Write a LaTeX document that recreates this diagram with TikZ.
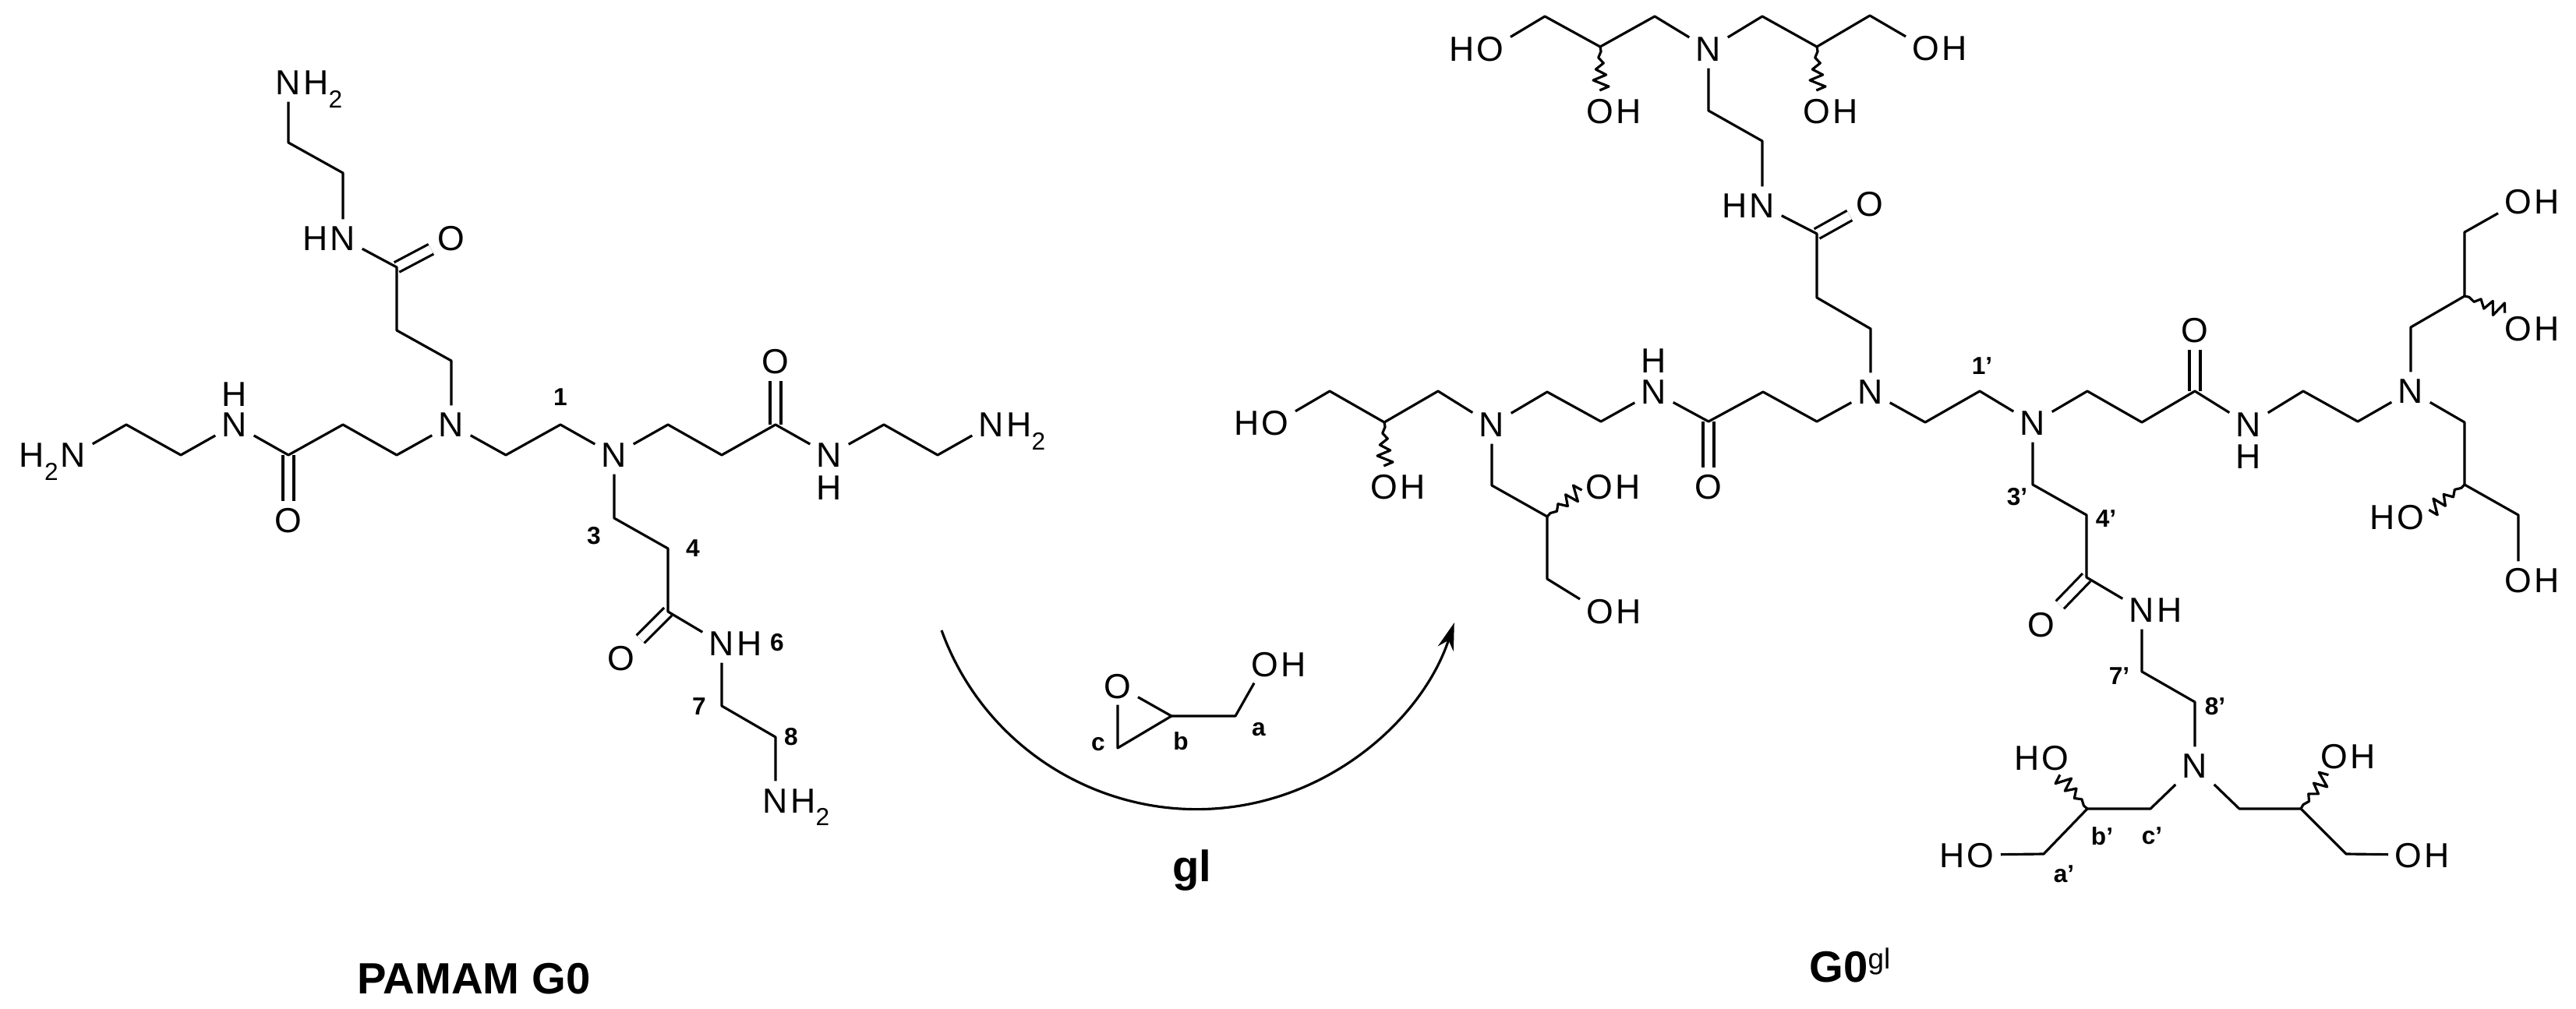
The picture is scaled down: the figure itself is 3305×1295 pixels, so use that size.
\documentclass[tikz,border=0pt]{standalone}
\usepackage{fontspec}
\setmainfont{Liberation Sans}
\usetikzlibrary{arrows.meta}
\newcommand{\subtwo}{\raisebox{-4.6pt}{\fontsize{9}{9}\selectfont 2}}
\tikzset{
	atom/.style={font=\fontsize{12.7}{14}\selectfont, inner sep=2pt, text height=9.1pt, text depth=0pt},
	hright/.style={atom, anchor=base west, xshift=-4pt},
	hleft/.style={atom, anchor=base east, xshift=4pt},
	numlabel/.style={font=\bfseries\fontsize{9}{10}\selectfont, inner sep=0pt},
	title/.style={font=\bfseries\fontsize{16}{18}\selectfont, inner sep=0pt},
	dbl/.style={double, double distance=3.1pt},
	wavy/.pic={\draw (0,0)--(1,6)--(-2.3,14)--(4.3,21)--(-5.7,29)--(7.7,36)--(-9,43)--(11,51)--(-0.7,56);}
}
\begin{document}
\begin{tikzpicture}[x=0.1mm,y=-0.1mm,>={Stealth[length=10pt,width=6pt]}, line width=0.9pt, line join=round]
	\useasboundingbox (0,0) rectangle (3305,1295);
	% nitrogen and oxygen atoms
	\foreach \nm/\x/\y in {nA/370/106,nB/440/306,nC/579/545,nD/788/584,nE/301/545,nF/94/584,nG/1064/584,nH/1272/545,nI/926/826,nJ/995/1027,
		nT/2192/63,nU/2261/264,nV/2400/503,nW/2122/503,nX/1914/545,nY/2608/543,nZ/2885/545,nQ/3093/502,nS/2748/783,nR/2816/983}
		\node[atom] (\nm) at (\x,\y) {N};
	\foreach \nm/\x/\y in {oB/579/306,oE/370/668,oG/995/464,oI/797/845,oM/1434/880,oN/1623/852,
		oT/1912/63,oTa/2053/143,oTb/2331/143,oTc/2471/62,oU/2399/262,oV/2192/625,oXa/1776/625,oXb/1636/543,oYa/2052/625,oYb/2053/785,
		oZ/2816/424,oQa/3231/259,oQb/3231/422,oRa/3093/664,oRb/3231/745,oS/2619/801,oPa/2637/972,oPb/2541/1097,oKa/2995/970,oKb/3090/1097}
		\node[atom] (\nm) at (\x,\y) {O};
	% hydrogens beside them
	\foreach \a in {nA,nH,nJ} \node[hright] (h\a) at (\a.base east) {H\subtwo};
	\node[hleft] (hnF) at (nF.base west) {H\subtwo};
	\foreach \a in {nI,nS,oN,oTa,oTb,oTc,oXa,oYa,oYb,oQa,oQb,oRb,oKa,oKb} \node[hright] (h\a) at (\a.base east) {H};
	\foreach \a in {nB,nU,oT,oXb,oRa,oPa,oPb} \node[hleft] (h\a) at (\a.base west) {H};
	\foreach \nm/\x/\y in {hnE/301/506,hnG/1064/626,hnW/2122/463,hnZ/2885/586} \node[atom] (\nm) at (\x,\y) {H};
	% carbons
	\foreach \nm/\x/\y in {a1/370/183,a2/440/222,a3/509/343,a4/509/424,a5/579/463,b1/509/584,b2/440/545,b3/370/584,b4/232/584,b5/162/545,
		c1/649/584,c2/719/545,d1/857/545,d2/926/584,d3/995/545,d4/1134/545,d5/1203/584,e1/788/665,e2/857/704,e3/857/785,e4/926/906,e5/995/946,
		ga/1585/919,gb/1503/919,gc/1434/960,
		t1/1982/21,t2/2053/60,t3/2123/21,t4/2261/21,t5/2331/60,t6/2399/20,u1/2192/142,u2/2261/181,u3/2331/300,u4/2331/382,u5/2400/422,
		v1/2331/541,v2/2262/503,v3/2192/541,v4/2054/541,v5/1985/503,x1/1845/502,x2/1776/542,x3/1706/502,y1/1914/623,y2/1985/663,y3/1985/743,
		w1/2470/542,w2/2540/502,z1/2678/502,z2/2748/542,z3/2816/502,z4/2955/502,z5/3025/541,q1/3093/420,q2/3162/380,q3/3162/298,
		r1/3162/542,r2/3162/622,r3/3231/661,s1/2608/622,s2/2677/661,s3/2677/741,s4/2748/862,s5/2816/901,
		p1/2759/1038,p2/2678/1038,p3/2622/1096,k1/2873/1038,k2/2952/1038,k3/3010/1096}
		\coordinate (\nm) at (\x,\y);
	% C=O first
	\foreach \c/\o in {a3/oB,b3/oE,d3/oG,e3/oI,u3/oU,v3/oV,z3/oZ,s3/oS} \draw[dbl] (\c)--(\o);
	% PAMAM G0
	\draw (nA)--(a1)--(a2)--(nB)--(a3)--(a4)--(a5)--(nC);
	\draw (nC)--(b1)--(b2)--(b3)--(nE)--(b4)--(b5)--(nF);
	\draw (nC)--(c1)--(c2)--(nD);
	\draw (nD)--(d1)--(d2)--(d3)--(nG)--(d4)--(d5)--(nH);
	\draw (nD)--(e1)--(e2)--(e3)--(nI)--(e4)--(e5)--(nJ);
	% gl
	\draw (oM)--(gc)--(gb)--(oM);
	\draw (gb)--(ga)--(oN);
	% G0gl
	\draw (oT)--(t1)--(t2)--(t3)--(nT)--(t4)--(t5)--(t6)--(oTc);
	\draw (nT)--(u1)--(u2)--(nU)--(u3)--(u4)--(u5)--(nV);
	\draw (nV)--(v1)--(v2)--(v3)--(nW)--(v4)--(v5)--(nX);
	\draw (nX)--(x1)--(x2)--(x3)--(oXb);
	\draw (nX)--(y1)--(y2)--(y3)--(oYb);
	\draw (nV)--(w1)--(w2)--(nY);
	\draw (nY)--(z1)--(z2)--(z3)--(nZ)--(z4)--(z5)--(nQ);
	\draw (nQ)--(q1)--(q2)--(q3)--(oQa);
	\draw (nQ)--(r1)--(r2)--(r3)--(oRb);
	\draw (nY)--(s1)--(s2)--(s3)--(nS)--(s4)--(s5)--(nR);
	\draw (nR)--(p1)--(p2)--(p3)--(oPb);
	\draw (nR)--(k1)--(k2)--(k3)--(oKb);
	% C-OH of unknown configuration
	\foreach \c/\r in {t2/0,t5/0,x2/0,y2/128,q2/68,r2/-54,p2/219.5,k2/141.5} \pic[rotate=\r] at (\c) {wavy};
	% reaction arrow
	\coordinate (arcstart) at (1208,809);
	\draw[->] (arcstart) arc[start angle=160.1,end angle=18.2,radius=348];
	% labels
	\foreach \nm/\x/\y/\txt in {l1/719/510/1,l3/762/688/3,l4/889/704/4,l6/997/825/6,l7/897/907/7,l8/1015/946/8,
		la/1615/936/a,lb/1515/951/b,lc/1409/955/c,
		lp1/2543/470/1',lp3/2588/638/3',lp4/2702/666/4',lp7/2719/868/7',lp8/2842/907/8',
		lpa/2648/1122/a',lpb/2697/1073/b',lpc/2761/1073/c'}
		\node[numlabel] (\nm) at (\x,\y) {\txt};
	\node[title,anchor=base] (pamam) at (608,1275) {PAMAM G0};
	\node[title,anchor=base] (gl) at (1529,1131) {gl};
	\node[title,anchor=base west] (gzero) at (2320,1260) {G0\raisebox{4.6pt}{\fontsize{10.5}{12}\selectfont\mdseries gl}};
\end{tikzpicture}
\end{document}
